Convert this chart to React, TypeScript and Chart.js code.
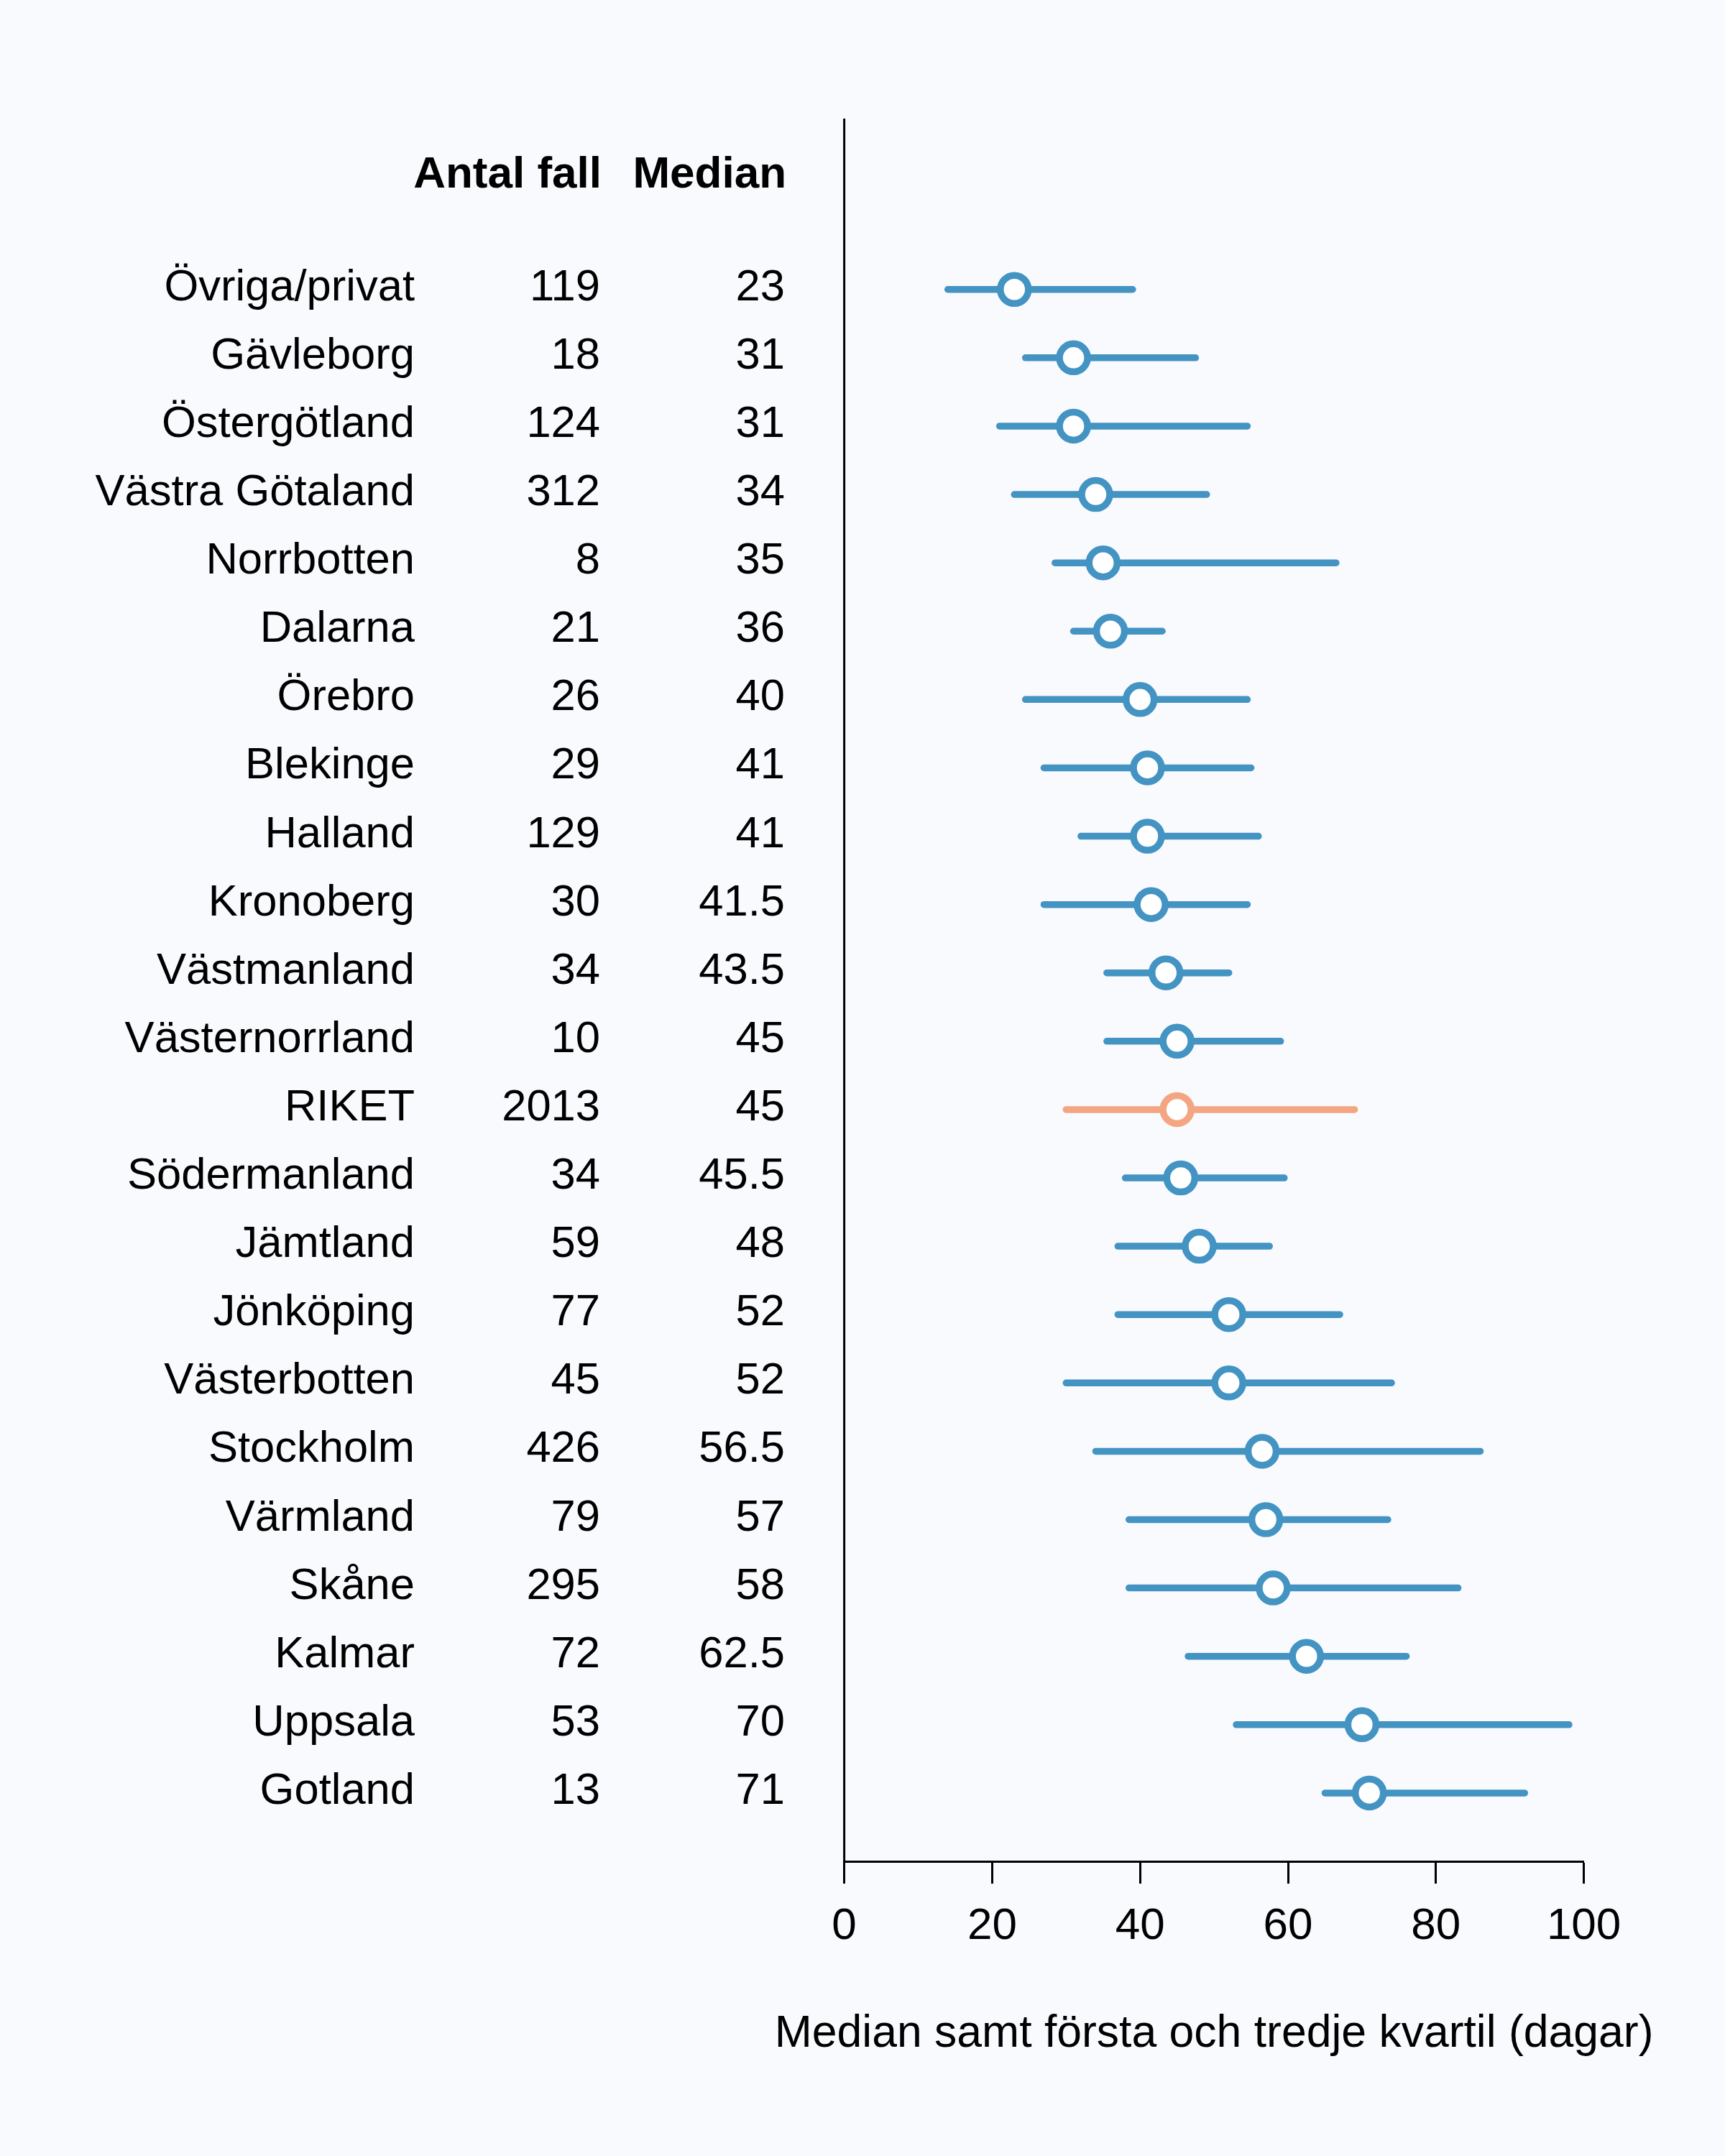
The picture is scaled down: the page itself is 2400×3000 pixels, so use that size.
import React, { useEffect, useRef } from "react";
import { Chart, registerables } from "chart.js";

Chart.register(...registerables);

// Regions, ordered by median waiting time
const regions = [
  "Övriga/privat",
  "Gävleborg",
  "Östergötland",
  "Västra Götaland",
  "Norrbotten",
  "Dalarna",
  "Örebro",
  "Blekinge",
  "Halland",
  "Kronoberg",
  "Västmanland",
  "Västernorrland",
  "RIKET",
  "Södermanland",
  "Jämtland",
  "Jönköping",
  "Västerbotten",
  "Stockholm",
  "Värmland",
  "Skåne",
  "Kalmar",
  "Uppsala",
  "Gotland",
];

// Number of cases per region
const caseCounts = [
  119, 18, 124, 312, 8, 21, 26, 29, 129, 30, 34, 10, 2013, 34, 59, 77, 45, 426,
  79, 295, 72, 53, 13,
];

// Median (days)
const medians = [
  23, 31, 31, 34, 35, 36, 40, 41, 41, 41.5, 43.5, 45, 45, 45.5, 48, 52, 52,
  56.5, 57, 58, 62.5, 70, 71,
];

// First quartile (days)
const firstQuartiles = [
  14, 24.5, 21, 23, 28.5, 31, 24.5, 27, 32, 27, 35.5, 35.5, 30, 38, 37, 37, 30,
  34, 38.5, 38.5, 46.5, 53, 65,
];

// Third quartile (days)
const thirdQuartiles = [
  39, 47.5, 54.5, 49, 66.5, 43, 54.5, 55, 56, 54.5, 52, 59, 69, 59.5, 57.5, 67,
  74, 86, 73.5, 83, 76, 98, 92,
];

const xTicks = [0, 20, 40, 60, 80, 100];
const columnHeaders = ["Antal fall", "Median"];
const axisTitle = "Median samt första och tredje kvartil (dagar)";
const nationalRow = "RIKET";

const PAGE_BG = "#F8FAFE";
const BLUE = "#4393C3";
const ORANGE = "#F4A582";
const FONT = "'Liberation Sans', Arial, Helvetica, sans-serif";

// Vertical placement in row units (row i sits at y = i)
const Y_MIN = -2.5;
const Y_MAX = 23;
const HEADER_ROW = -1.65;
const BASELINE_SHIFT = 15;

// Right edges of the three text columns
const LABEL_RIGHT = 577;
const COUNT_RIGHT = 835;
const MEDIAN_RIGHT = 1092;

const colorFor = (i: number) => (regions[i] === nationalRow ? ORANGE : BLUE);

const tablePlugin = {
  id: "regionTable",
  beforeDraw(chart: any) {
    const { ctx, width, height } = chart;
    ctx.save();
    ctx.fillStyle = PAGE_BG;
    ctx.fillRect(0, 0, width, height);
    ctx.restore();
  },
  afterDraw(chart: any) {
    const ctx = chart.ctx as CanvasRenderingContext2D;
    const yScale = chart.scales.y;
    const area = chart.chartArea;
    ctx.save();
    ctx.fillStyle = "#000";
    ctx.textBaseline = "alphabetic";
    ctx.textAlign = "right";

    // column headers
    ctx.font = `bold 62px ${FONT}`;
    const hy = yScale.getPixelForValue(HEADER_ROW) + BASELINE_SHIFT;
    ctx.fillText(columnHeaders[0], COUNT_RIGHT + 2, hy);
    ctx.fillText(columnHeaders[1], MEDIAN_RIGHT + 2, hy);

    // one text row per region
    ctx.font = `61.5px ${FONT}`;
    regions.forEach((name, i) => {
      const py = yScale.getPixelForValue(i) + BASELINE_SHIFT;
      ctx.fillText(name, LABEL_RIGHT, py);
      ctx.fillText(String(caseCounts[i]), COUNT_RIGHT, py);
      ctx.fillText(String(medians[i]), MEDIAN_RIGHT, py);
    });

    // left axis line
    ctx.strokeStyle = "#000";
    ctx.lineWidth = 3;
    ctx.beginPath();
    ctx.moveTo(area.left, area.top);
    ctx.lineTo(area.left, area.bottom);
    ctx.stroke();

    // x axis title
    ctx.textAlign = "center";
    ctx.font = `62.5px ${FONT}`;
    ctx.fillText(axisTitle, (area.left + area.right) / 2, area.bottom + 258);
    ctx.restore();
  },
};

export default function App() {
  const canvasRef = useRef<HTMLCanvasElement>(null);

  useEffect(() => {
    document.body.style.margin = "0";
    document.body.style.background = PAGE_BG;
    const canvas = canvasRef.current;
    if (!canvas) return;

    const whiskerSets = regions.map((name, i) => ({
      type: "line" as const,
      label: name,
      data: [
        { x: firstQuartiles[i], y: i },
        { x: thirdQuartiles[i], y: i },
      ],
      borderColor: colorFor(i),
      borderWidth: 9.5,
      borderCapStyle: "round" as const,
      pointRadius: 0,
      showLine: true,
      order: 2,
    }));

    const medianSet = {
      type: "scatter" as const,
      label: "Median",
      data: medians.map((m, i) => ({ x: m, y: i })),
      pointRadius: 19.5,
      pointBorderWidth: 9.5,
      pointBackgroundColor: "#FFFFFF",
      pointBorderColor: regions.map((_, i) => colorFor(i)),
      order: 1,
    };

    const chart = new Chart(canvas, {
      type: "scatter",
      data: { datasets: [medianSet as any, ...(whiskerSets as any[])] },
      plugins: [tablePlugin],
      options: {
        animation: false,
        responsive: false,
        devicePixelRatio: 1,
        events: [],
        layout: { padding: { left: 1174.6, right: 196.4, top: 165, bottom: 0 } },
        plugins: { legend: { display: false }, tooltip: { enabled: false } },
        scales: {
          x: {
            type: "linear",
            min: 0,
            max: 100,
            afterBuildTicks: (scale: any) => {
              scale.ticks = xTicks.map((v) => ({ value: v }));
            },
            afterFit: (scale: any) => {
              scale.height = 410;
            },
            border: { display: true, color: "#000", width: 3 },
            grid: {
              display: true,
              drawOnChartArea: false,
              drawTicks: true,
              tickLength: 31,
              tickWidth: 3,
              tickColor: "#000",
            },
            ticks: {
              color: "#000",
              font: { family: FONT, size: 62 },
              padding: 23,
              maxRotation: 0,
              autoSkip: false,
            },
          },
          y: {
            type: "linear",
            min: Y_MIN,
            max: Y_MAX,
            reverse: true,
            display: false,
          },
        },
      },
    });

    return () => chart.destroy();
  }, []);

  return (
    <canvas
      ref={canvasRef}
      width={2400}
      height={3000}
      style={{ display: "block", width: 2400, height: 3000 }}
    />
  );
}
